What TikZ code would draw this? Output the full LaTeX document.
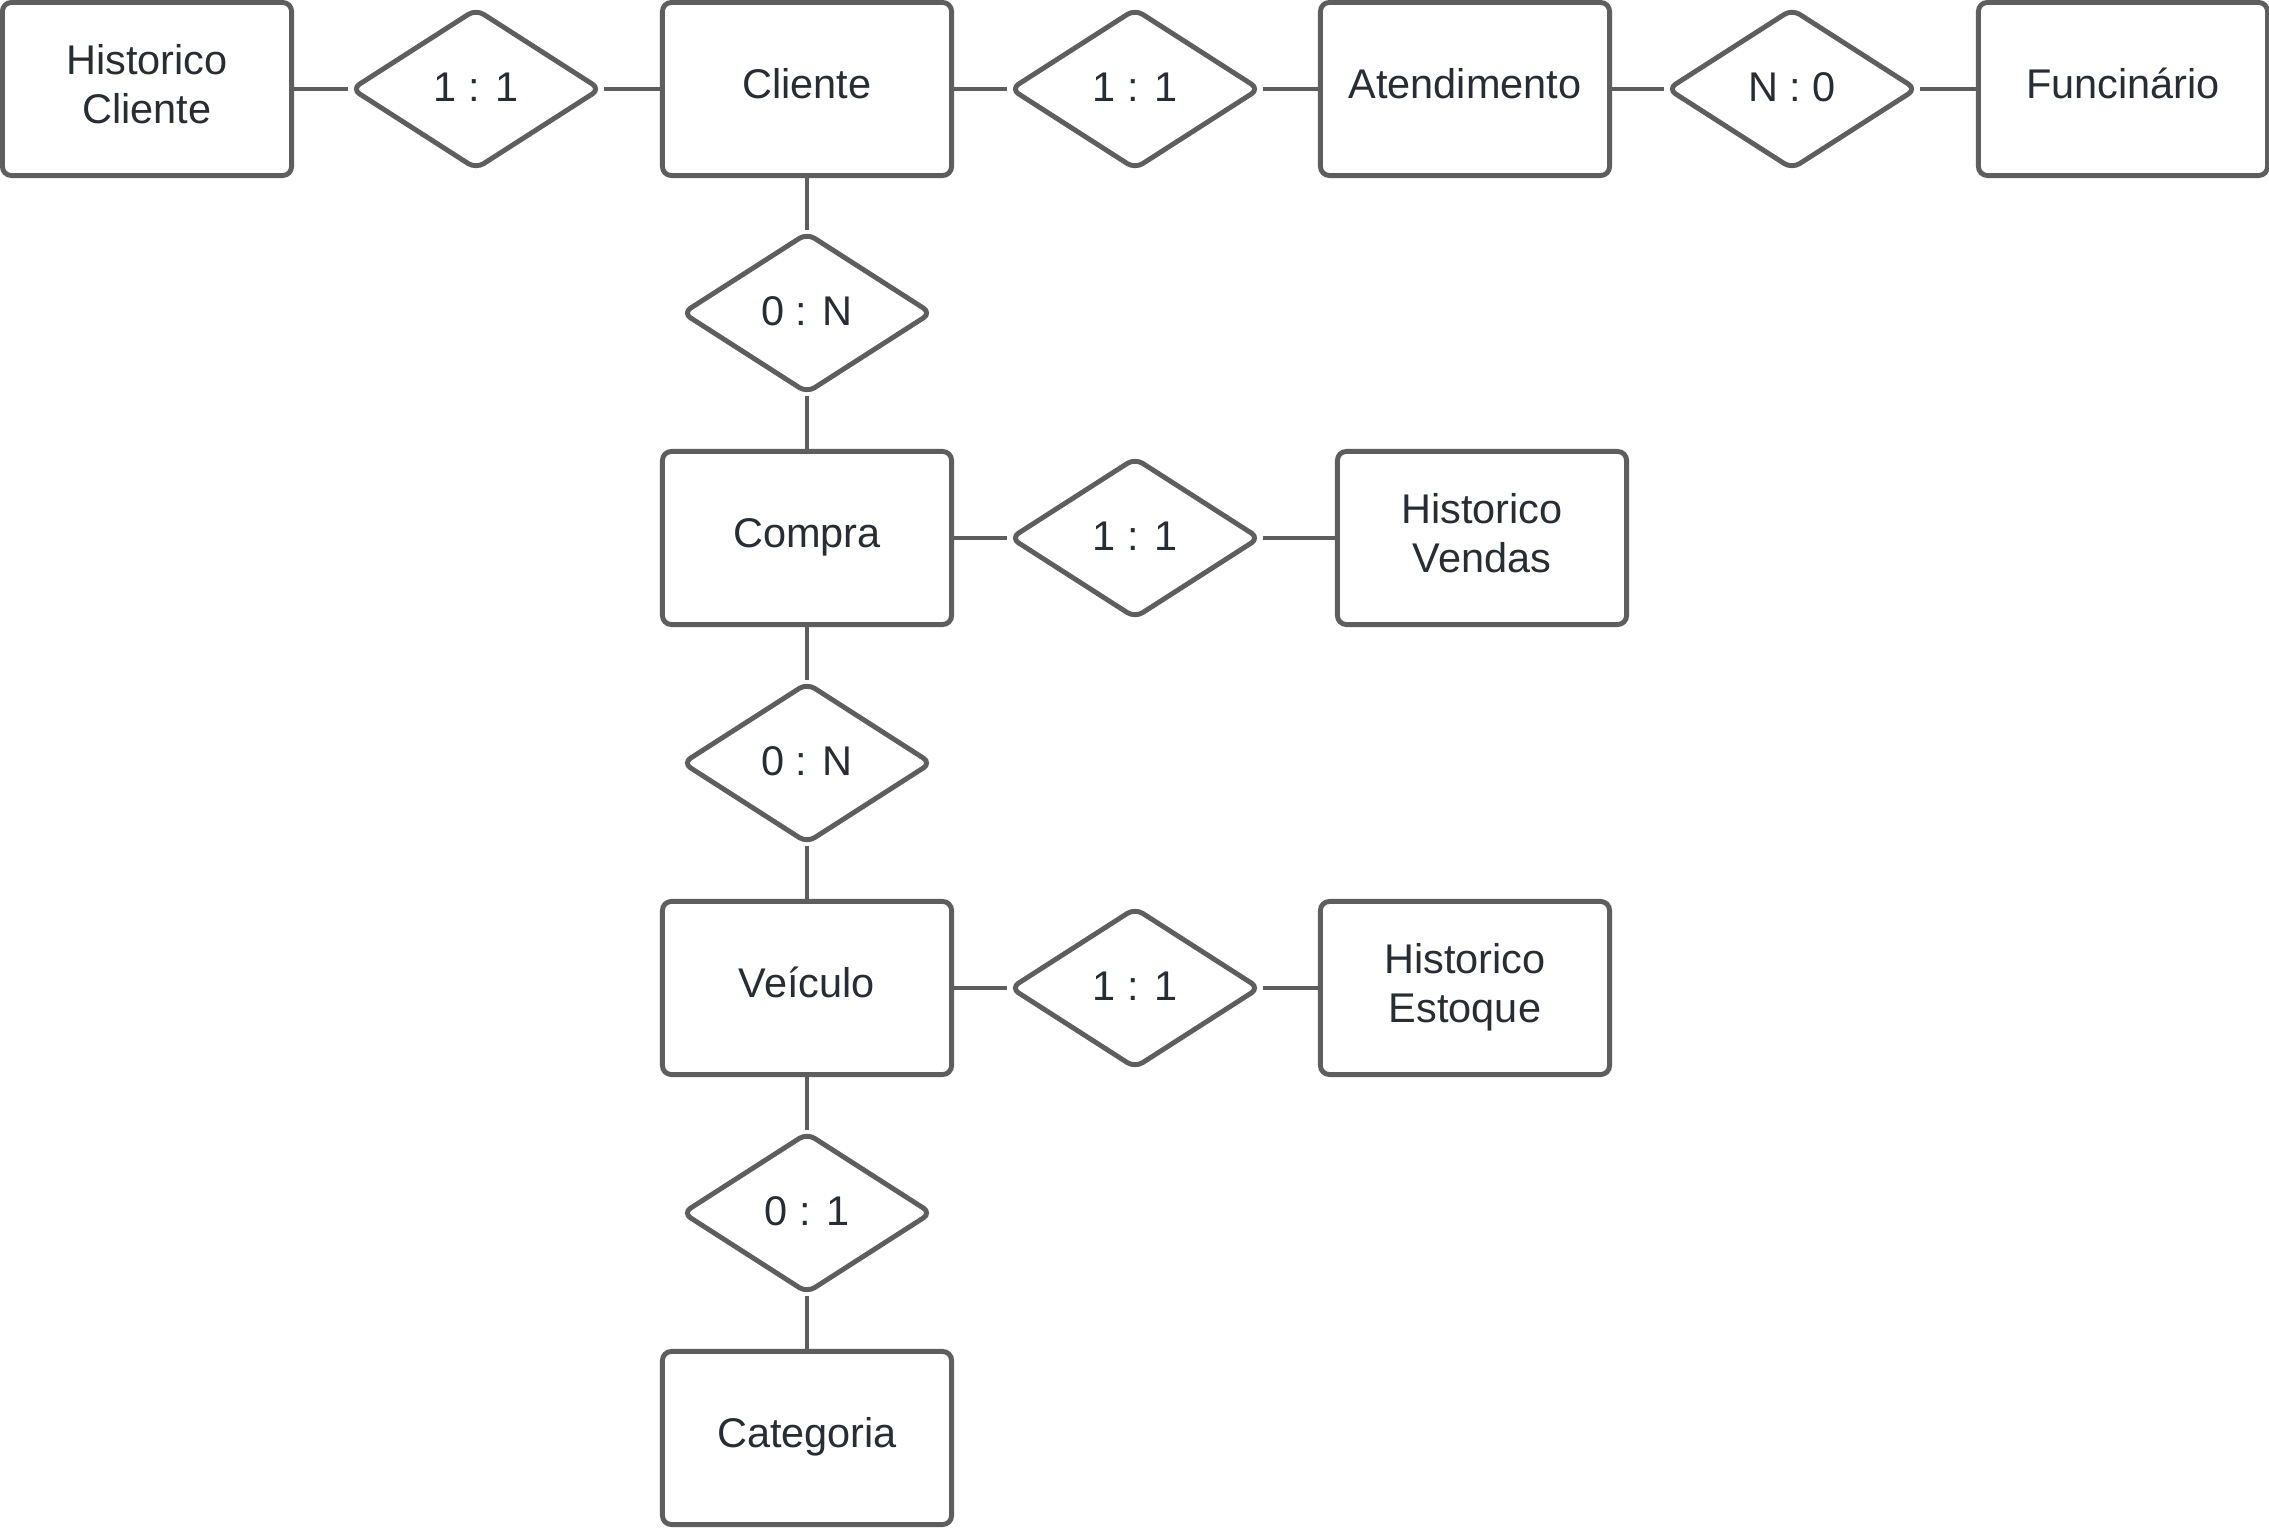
\documentclass[tikz,border=0pt]{standalone}
\usepackage{fontspec}
\setmainfont{Liberation Sans}
\usetikzlibrary{shapes.geometric}
\definecolor{edgegray}{HTML}{5E5E5E}
\definecolor{txt}{HTML}{282C33}
\newcommand{\entl}[1]{\begin{tabular}{@{}c@{}}#1\end{tabular}}
\begin{document}
\begin{tikzpicture}[x=0.01cm,y=-0.01cm,
  entity/.style={draw=edgegray, line width=1.4pt, rounded corners=0.09cm, fill=white,
    minimum width=2.89cm, minimum height=1.73cm, align=center, text=txt,
    font=\fontsize{11.8}{14.2}\selectfont, inner sep=0pt},
  rel/.style={draw=edgegray, line width=1.4pt, diamond, rounded corners=0.09cm, fill=white,
    minimum width=2.50cm, minimum height=1.61cm, inner sep=0pt, text=txt,
    text height=8.5pt, text depth=1.5pt,
    font=\fontsize{11.8}{14.2}\selectfont},
  link/.style={draw=edgegray, line width=0.9pt}]
\useasboundingbox (0,0) rectangle (2269,1528);
% entities
\node[entity] (hc)   at (147,89)   {\entl{Historico\\Cliente}};
\node[entity] (cli)  at (807,89)   {\entl{Cliente}};
\node[entity] (ate)  at (1465,89)  {\entl{Atendimento}};
\node[entity] (fun)  at (2123,89)  {\entl{Funcinário}};
\node[entity] (com)  at (807,538)  {\entl{Compra}};
\node[entity] (hv)   at (1482,538) {\entl{Historico\\Vendas}};
\node[entity] (vei)  at (807,988)  {\entl{Veículo}};
\node[entity] (he)   at (1465,988) {\entl{Historico\\Estoque}};
\node[entity] (cat)  at (807,1438) {\entl{Categoria}};
% relationships
\node[rel] (r1) at (476,89)   {1 : 1};
\node[rel] (r2) at (1135,89)  {1 : 1};
\node[rel] (r3) at (1792,89)  {N : 0};
\node[rel] (r4) at (807,313)  {0 : N};
\node[rel] (r5) at (1135,538) {1 : 1};
\node[rel] (r6) at (807,763)  {0 : N};
\node[rel] (r7) at (1135,988) {1 : 1};
\node[rel] (r8) at (807,1213) {0 : 1};
% connectors
\draw[link] (hc) -- (r1) -- (cli);
\draw[link] (cli) -- (r2) -- (ate);
\draw[link] (ate) -- (r3) -- (fun);
\draw[link] (cli) -- (r4) -- (com);
\draw[link] (com) -- (r5) -- (hv);
\draw[link] (com) -- (r6) -- (vei);
\draw[link] (vei) -- (r7) -- (he);
\draw[link] (vei) -- (r8) -- (cat);
\end{tikzpicture}
\end{document}
